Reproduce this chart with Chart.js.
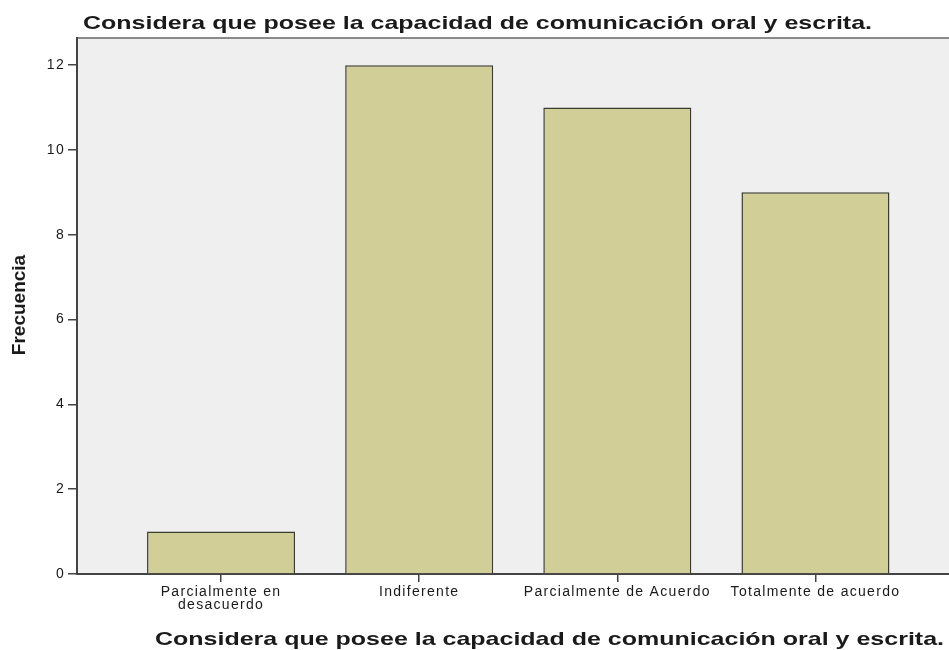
<!DOCTYPE html>
<html>
<head>
<meta charset="utf-8">
<script src="https://cdn.jsdelivr.net/npm/chart.js@4.4.1/dist/chart.umd.min.js"></script>
<style>
  html, body { margin: 0; padding: 0; background: #fff; }
  #wrap { width: 949px; height: 650px; }
</style>
</head>
<body>
<div id="wrap"><canvas id="chart" width="949" height="650"></canvas></div>
<script>
/// Chart texts
const TITLE = "Considera que posee la capacidad de comunicación oral y escrita.";
const X_TITLE = "Considera que posee la capacidad de comunicación oral y escrita.";
const Y_TITLE = "Frecuencia";

/// Categories (first one wraps on two lines) and their frequencies
const CATEGORIES = [["Parcialmente en", "desacuerdo"], "Indiferente", "Parcialmente de Acuerdo", "Totalmente de acuerdo"];
const FREQ = [1, 12, 11, 9];

/// Y tick values
const Y_TICKS = [0, 2, 4, 6, 8, 10, 12];

const FONT = "'Liberation Sans', Arial, sans-serif";
const AXIS_COLOR = "#444";
const TEXT_COLOR = "#1a1a1a";

// ── Helpers ─────────────────────────────────────────────────────────

/// Draw text stretched horizontally to a given width (the source is a stretched SPSS picture).
function stretchedText(ctx, text, x, y, width, font) {
  ctx.save();
  ctx.font = font;
  ctx.fillStyle = TEXT_COLOR;
  ctx.textBaseline = "alphabetic";
  ctx.textAlign = "left";
  const sx = width / ctx.measureText(text).width;
  ctx.translate(x, y);
  ctx.scale(sx, 1);
  ctx.fillText(text, 0, 0);
  ctx.restore();
}

/// Plot background, top frame line, and the three titles.
const frame = {
  id: "frame",
  beforeDraw(chart) {
    const { ctx, chartArea: a } = chart;
    ctx.save();
    ctx.fillStyle = "#efefef";
    ctx.fillRect(a.left, a.top, a.right - a.left, a.bottom - a.top);
    ctx.strokeStyle = "#8a8a8a";
    ctx.lineWidth = 2;
    ctx.beginPath();
    ctx.moveTo(a.left, a.top);
    ctx.lineTo(a.right, a.top);
    ctx.stroke();
    ctx.restore();
    // tick labels in the reference are horizontally stretched
    ctx.letterSpacing = "1.3px";
  },
  afterDraw(chart) {
    const ctx = chart.ctx;
    ctx.letterSpacing = "0px";
    stretchedText(ctx, TITLE, 83, 29, 789, "bold 19px " + FONT);
    stretchedText(ctx, X_TITLE, 155, 645, 789, "bold 19px " + FONT);

    ctx.save();
    ctx.font = "bold 19px " + FONT;
    ctx.fillStyle = TEXT_COLOR;
    ctx.textAlign = "center";
    ctx.textBaseline = "middle";
    ctx.translate(20, 305);
    ctx.rotate(-Math.PI / 2);
    ctx.fillText(Y_TITLE, 0, 0);
    ctx.restore();
  }
};

// ── Chart ───────────────────────────────────────────────────────────

new Chart(document.getElementById("chart"), {
  type: "bar",
  data: {
    datasets: [{
      data: FREQ.map((v, i) => ({ x: i, y: v })),
      backgroundColor: "#d2ce97",
      borderColor: "#3b3b30",
      borderWidth: 1.5,
      barPercentage: 0.747,
      categoryPercentage: 1
    }]
  },
  options: {
    responsive: false,
    animation: false,
    layout: { padding: { top: 38, right: 0, left: 0, bottom: 0 } },
    plugins: {
      legend: { display: false },
      tooltip: { enabled: false },
      title: { display: false }
    },
    scales: {
      x: {
        type: "linear",
        offset: false,
        min: -0.727,
        max: 3.674,
        afterBuildTicks: s => { s.ticks = CATEGORIES.map((c, i) => ({ value: i })); },
        afterFit: s => { s.height = 76; },
        grid: { offset: false, drawOnChartArea: false, drawTicks: true, tickLength: 8, color: AXIS_COLOR, lineWidth: 1.5 },
        border: { color: AXIS_COLOR, width: 2 },
        ticks: {
          callback: v => CATEGORIES[v],
          color: TEXT_COLOR,
          font: { family: FONT, size: 14, lineHeight: 0.95 },
          padding: 3,
          maxRotation: 0,
          autoSkip: false
        }
      },
      y: {
        min: 0,
        max: 12.64,
        afterBuildTicks: s => { s.ticks = Y_TICKS.map(v => ({ value: v })); },
        afterFit: s => { s.width = 77; },
        grid: { drawOnChartArea: false, drawTicks: true, tickLength: 9, color: AXIS_COLOR, lineWidth: 1.5 },
        border: { color: AXIS_COLOR, width: 2 },
        ticks: {
          color: TEXT_COLOR,
          font: { family: FONT, size: 14 },
          padding: 3
        }
      }
    }
  },
  plugins: [frame]
});
</script>
</body>
</html>
